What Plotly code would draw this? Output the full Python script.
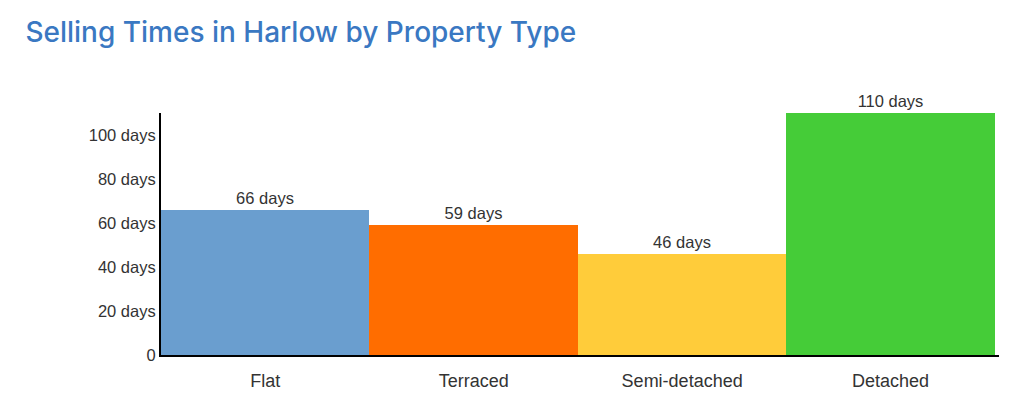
import plotly.graph_objects as go

property_types = ['Flat', 'Terraced', 'Semi-detached', 'Detached']
selling_days = [66, 59, 46, 110]
bar_colours = ['#6a9ecf', '#ff6d00', '#ffcc3a', '#45cc38']
tick_vals = [0, 20, 40, 60, 80, 100]
tick_text = ['0', '20 days', '40 days', '60 days', '80 days', '100 days']

fig = go.Figure()
fig.add_trace(go.Bar(x=property_types, y=selling_days,
                     marker=dict(color=bar_colours, line=dict(width=0)),
                     text=[str(v) + ' days' for v in selling_days],
                     textposition='outside', cliponaxis=False,
                     textfont=dict(family='Liberation Sans, Arial', size=16.5, color='#333333')))

# page has an 8px body margin, so margins are trimmed to line up with the reference
fig.update_layout(
    width=1024, height=401,
    margin=dict(l=153, r=33, t=105, b=54),
    paper_bgcolor='white', plot_bgcolor='white',
    bargap=0, showlegend=False,
    title=dict(text='Selling Times in Harlow by Property Type', xref='container', yref='container',
               x=0.017, xanchor='left', y=0.94, yanchor='middle',
               font=dict(family='Inter, Open Sans', size=28, weight=500, color='#3a78c2')),
    font=dict(family='Liberation Sans, Arial', color='#333333'),
)
fig.update_xaxes(range=[-0.5, 3.52], showline=True, linecolor='black', linewidth=2,
                 showgrid=False, ticks='', ticklabelstandoff=8,
                 tickfont=dict(size=18, color='#333333'))
fig.update_yaxes(range=[0, 110], tickvals=tick_vals, ticktext=tick_text, showline=True,
                 linecolor='black', linewidth=2, showgrid=False, zeroline=False,
                 tickfont=dict(size=16.5, color='#333333'), ticks='', ticklen=0)

fig.write_html('out.html')
